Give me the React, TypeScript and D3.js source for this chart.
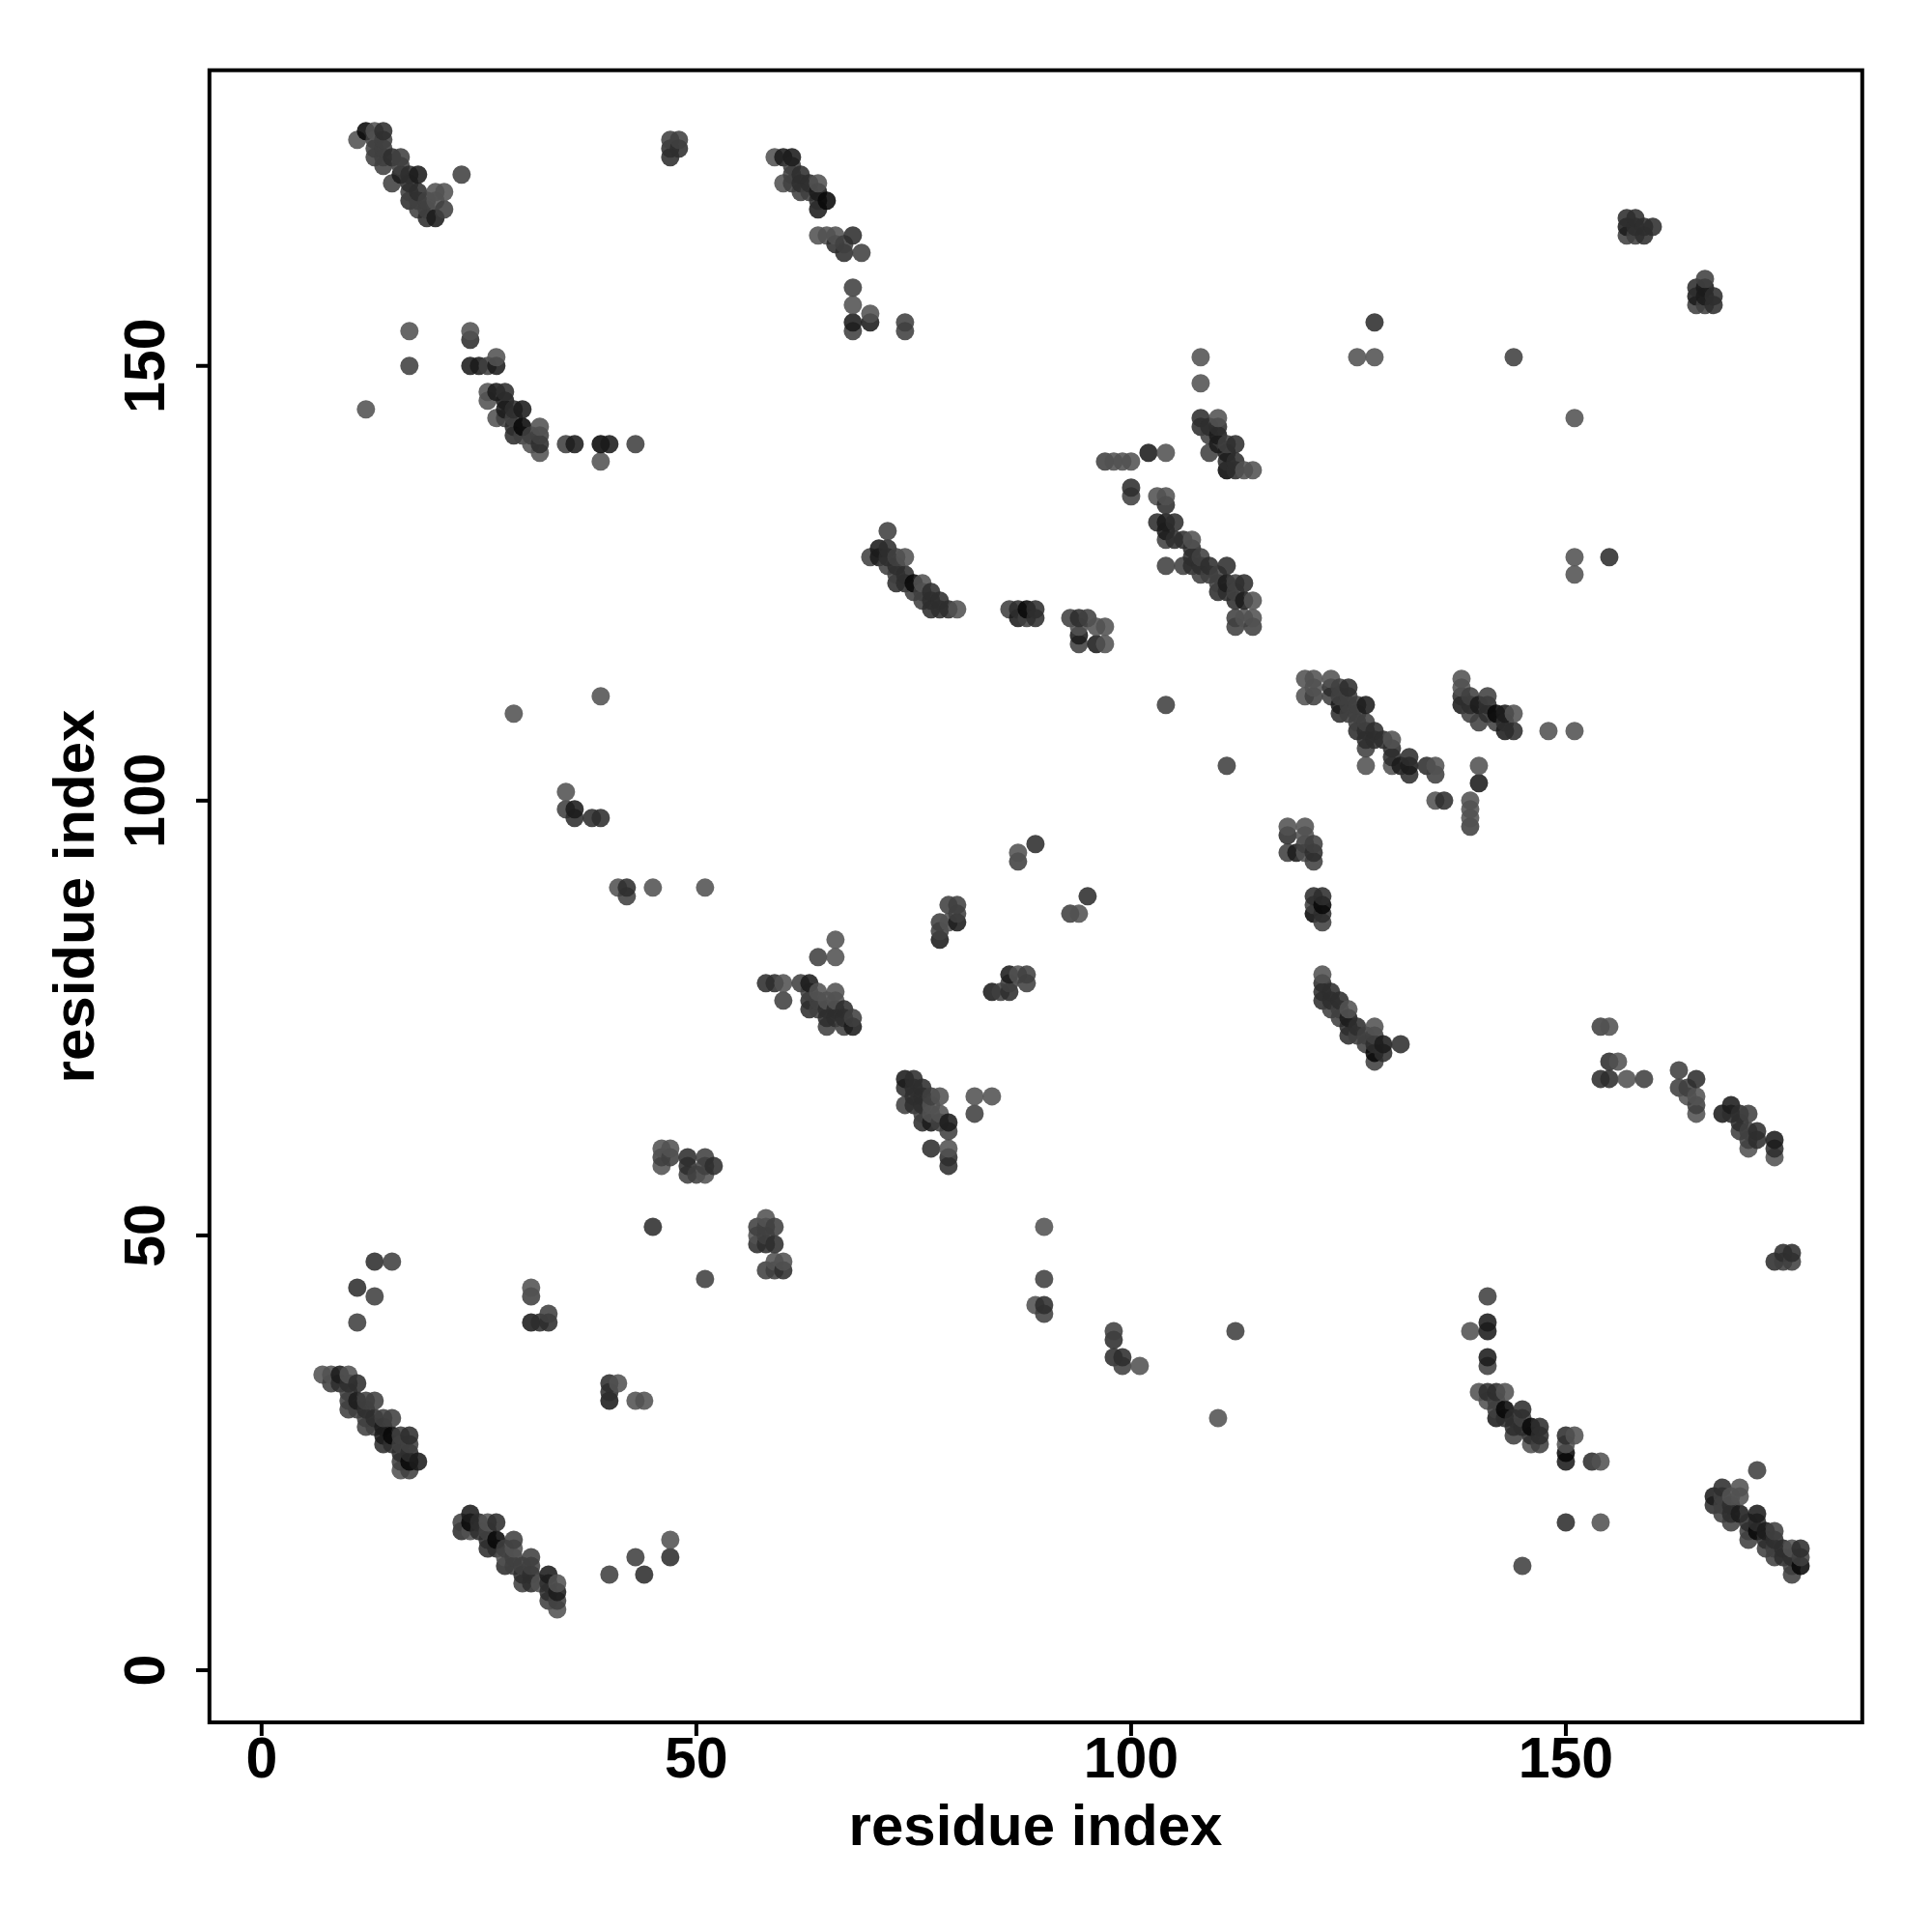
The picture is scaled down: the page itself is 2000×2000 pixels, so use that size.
import React from "react";
import * as d3 from "d3";

type P = [number, number, number];
// each entry: residue i, residue j, contact strength (1 faint .. 5 strong)
const topLeft: P[] = [[11,176,1],[12,177,5],[13,177,1],[14,177,3],[13,176,2],[14,176,2],[13,175,2],[14,175,2],[13,174,2],[14,174,2],[14,173,2],[15,174,3],[16,174,2],[16,173,2],[15,171,2],[16,172,4],[17,172,3],[18,172,4],[17,171,3],[18,170,3],[17,170,2],[17,169,3],[18,169,2],[18,168,2],[19,169,2],[19,168,2],[19,167,3],[20,167,4],[20,170,1],[21,170,1],[20,169,1],[21,168,2],[23,172,2]];
const topMid: P[] = [[47,174,3],[47,175,3],[47,176,2],[48,176,2],[48,175,3]];
const arcA: P[] = [[17,154,1],[17,150,2],[12,145,1],[24,154,1],[24,153,3],[24,150,4],[25,150,4],[26,150,2],[27,150,4],[27,151,1],[26,147,1],[26,146,1],[27,147,4],[28,147,3],[27,144,1],[28,146,4],[28,145,4],[29,145,3],[30,145,4],[28,144,2],[29,144,2],[29,143,3],[30,143,5],[29,142,3],[30,142,2],[31,142,2],[31,141,1],[32,143,1],[32,142,2],[32,141,3],[32,140,1],[35,141,2],[36,141,4],[39,141,5],[40,141,4],[39,139,1],[43,141,2]];
const topStrand: P[] = [[59,174,1],[60,174,4],[61,174,4],[61,173,2],[62,172,3],[60,171,1],[61,172,2],[61,171,2],[62,171,3],[62,170,2],[63,171,3],[64,171,1],[63,170,2],[64,170,4],[65,169,5],[64,169,3],[64,168,4],[64,165,1],[65,165,1],[66,165,1],[68,165,3],[67,164,2],[66,164,3],[67,163,3],[69,163,2],[68,159,2],[68,157,1],[68,155,4],[68,154,2],[70,156,1],[70,155,4],[74,155,2],[74,154,2]];
const midStrand: P[] = [[72,131,2],[71,129,4],[72,129,3],[70,128,2],[71,128,4],[72,128,3],[73,128,2],[74,128,1],[72,127,2],[73,127,3],[73,126,2],[74,126,3],[73,125,3],[74,125,3],[75,125,5],[76,125,1],[75,124,2],[76,124,2],[77,124,3],[76,123,2],[77,123,3],[78,123,3],[77,122,3],[78,122,3],[79,122,3],[80,122,1],[86,122,2],[87,122,3],[88,122,5],[89,122,3],[87,121,4],[88,121,2],[89,121,3],[93,121,2],[94,121,3],[95,121,2],[94,120,1],[96,120,1],[97,120,1],[94,119,4],[94,118,2],[96,118,4],[97,118,1]];
const upperMid: P[] = [[108,151,1],[108,148,1],[108,144,3],[108,143,3],[110,144,1],[109,143,3],[110,143,3],[109,142,2],[110,142,4],[110,141,4],[111,141,2],[112,141,3],[109,140,2],[111,140,4],[111,139,3],[112,139,3],[111,138,5],[112,138,3],[113,138,1],[114,138,1],[97,139,2],[98,139,1],[99,139,1],[100,139,1],[102,140,4],[104,140,1],[100,136,3],[100,135,2],[103,135,1],[104,135,1],[104,134,3],[103,132,3],[104,132,4],[105,132,3],[104,131,4],[104,130,2],[105,130,3],[106,130,3],[107,130,1],[104,127,2],[106,127,2],[107,129,3],[107,128,3],[108,128,2],[107,127,3],[108,127,3],[109,127,3],[108,126,2],[109,126,2],[110,126,2],[111,127,3],[110,125,2],[111,125,4],[112,125,2],[113,125,3],[110,124,3],[111,124,3],[112,124,2],[112,123,3],[113,123,4],[114,123,1],[112,121,2],[113,121,1],[114,121,1],[112,120,2],[114,120,2]];
const rightStrand: P[] = [[120,114,1],[121,114,1],[120,112,1],[121,113,1],[121,112,2],[123,114,1],[123,113,3],[123,112,2],[124,113,2],[125,113,3],[124,112,2],[125,112,2],[124,111,4],[125,111,2],[126,111,2],[127,111,4],[124,110,3],[125,110,2],[126,110,2],[126,109,2],[127,109,2],[126,108,3],[127,108,3],[128,108,3],[127,107,3],[128,107,3],[129,107,3],[130,107,1],[127,106,2],[127,104,1],[130,106,3],[130,105,3],[130,104,1],[131,104,4],[132,105,3],[132,104,4],[132,103,3],[134,104,3],[135,104,1],[135,103,2],[135,100,1],[136,100,3],[138,114,1],[138,113,1],[138,112,3],[138,111,4],[139,112,2],[139,111,3],[139,110,2],[140,111,4],[141,112,2],[141,111,3],[141,110,3],[140,109,2],[142,110,5],[143,110,4],[144,110,1],[142,109,2],[143,109,3],[143,108,4],[144,108,3],[140,104,1],[140,102,4],[139,100,1],[139,99,1],[139,98,1],[139,97,2]];
const helix: P[] = [[118,97,1],[118,96,3],[118,94,2],[120,97,1],[120,96,1],[120,95,2],[121,95,2],[121,94,3],[121,93,2],[119,94,4],[120,94,1],[121,89,3],[122,89,3],[121,88,2],[122,88,5],[121,87,5],[122,87,3],[122,86,2],[122,80,1],[122,79,3],[122,78,3],[123,78,3],[122,77,3],[123,77,3],[124,77,3],[123,76,2],[124,76,2],[125,76,1],[124,75,2],[125,75,4],[125,74,3],[126,74,3],[125,73,3],[126,73,2],[127,73,2],[127,72,2],[128,74,1],[128,73,2],[128,72,3],[129,72,4],[128,71,5],[129,71,3],[128,70,2],[131,72,3]];
const center: P[] = [[66,84,1],[64,82,2],[66,82,1],[58,79,3],[59,79,3],[60,79,1],[60,77,2],[62,79,2],[63,79,4],[63,78,2],[63,77,3],[63,76,3],[64,78,1],[64,77,2],[64,76,2],[65,77,1],[65,76,3],[65,75,3],[65,74,2],[66,78,1],[66,77,1],[66,76,3],[66,75,3],[67,76,3],[67,75,3],[67,74,2],[68,75,2],[68,74,4],[79,88,2],[80,88,2],[80,87,2],[80,86,4],[78,86,2],[79,86,1],[78,85,2],[78,84,4],[86,80,4],[87,80,1],[88,80,2],[88,79,2],[86,79,2],[84,78,4],[85,78,2],[86,78,3],[74,68,4],[75,68,3],[74,67,3],[75,67,3],[76,67,3],[74,65,2],[75,66,3],[76,66,3],[77,66,2],[78,66,1],[75,65,3],[76,65,3],[77,65,1],[76,64,2],[77,64,1],[78,64,1],[76,63,3],[77,63,4],[78,63,2],[79,63,4],[79,62,2],[77,60,3],[79,60,1],[79,59,3],[79,58,3],[82,66,1],[84,66,1],[82,64,2],[89,95,3],[87,94,1],[87,93,2],[95,89,3],[93,87,2],[94,87,1]];
const scattered: P[] = [[29,110,1],[39,112,1],[35,101,1],[35,99,2],[36,99,4],[36,98,3],[38,98,3],[39,98,3],[41,90,1],[42,90,3],[42,89,2],[45,90,1],[51,90,1],[104,111,2],[111,104,2],[151,144,1],[151,128,1],[151,126,1],[155,128,3],[144,151,2],[128,155,3],[126,151,1],[128,151,1],[148,108,1],[151,108,1]];
const upperRight: P[] = [[157,167,3],[157,166,4],[157,165,2],[158,167,3],[158,166,3],[158,165,2],[159,166,3],[159,165,3],[160,166,3],[166,160,2],[165,159,3],[166,159,4],[165,158,4],[166,158,4],[167,158,3],[165,157,2],[167,157,3],[166,157,2]];
const lowerRight: P[] = [[154,74,2],[155,74,1],[155,70,3],[156,70,1],[154,68,3],[155,68,3],[157,68,1],[159,68,2],[163,69,2],[165,68,3],[163,67,2],[164,67,2],[165,66,1],[164,66,1],[165,65,2],[165,64,1],[168,64,4],[169,65,4],[169,64,3],[170,64,3],[171,64,2],[170,63,3],[170,62,2],[171,62,2],[172,62,3],[171,61,2],[171,60,1],[172,61,3],[174,61,4],[174,60,3],[174,59,1],[174,47,3],[175,47,2],[175,48,3],[176,48,3],[176,47,2]];
const lowerMid: P[] = [[46,60,1],[47,60,1],[46,59,2],[47,59,2],[46,58,1],[49,59,3],[49,58,3],[49,57,2],[50,57,2],[51,59,2],[51,58,2],[51,57,1],[52,58,3],[45,51,3],[51,45,2],[58,52,1],[57,51,2],[58,51,2],[59,51,2],[57,50,1],[58,50,2],[57,49,3],[58,49,3],[59,49,3],[58,46,2],[59,47,1],[60,47,1],[59,46,2],[60,46,3],[13,47,3],[15,47,2],[11,44,3],[13,43,2],[11,40,2],[31,44,1],[31,43,2],[33,41,2],[31,40,4],[32,40,3],[33,40,3],[40,33,3],[41,33,1],[40,32,3],[40,31,4],[43,31,1],[44,31,1],[90,51,1],[90,45,2],[89,42,1],[90,42,3],[90,41,2],[98,39,2],[98,38,3],[98,36,3],[99,36,3],[99,35,2],[101,35,1],[112,39,2],[110,29,1]];
const lowerLeft: P[] = [[7,34,1],[8,34,1],[9,34,4],[10,34,1],[8,33,2],[9,33,3],[10,33,3],[11,33,3],[10,32,2],[10,31,2],[11,31,4],[12,31,2],[13,31,2],[10,30,2],[11,30,2],[12,30,3],[12,29,2],[13,29,3],[14,29,2],[15,29,2],[12,28,2],[13,28,2],[14,28,4],[14,27,4],[15,27,5],[16,27,2],[17,27,3],[14,26,3],[15,26,3],[16,26,2],[17,26,2],[16,25,3],[17,25,3],[16,24,2],[17,24,5],[18,24,4],[16,23,1],[17,23,2],[23,17,2],[23,16,3],[24,18,4],[24,17,5],[24,16,1],[25,17,3],[26,17,1],[27,17,3],[25,16,3],[26,16,2],[26,15,3],[27,15,5],[26,14,3],[27,14,3],[28,14,2],[29,15,2],[29,14,1],[28,13,1],[29,13,2],[28,12,3],[29,12,2],[30,12,2],[31,13,2],[31,12,2],[30,11,3],[31,11,3],[30,10,2],[31,10,3],[32,10,1],[33,11,4],[33,10,3],[33,9,3],[34,10,1],[34,9,4],[33,8,2],[34,8,2],[34,7,1],[40,11,2],[43,13,2],[44,11,3],[47,15,1],[47,13,3]];
const arcB: P[] = [[141,43,2],[139,39,1],[141,40,4],[141,39,4],[141,36,4],[141,35,2],[140,32,1],[141,32,3],[142,32,3],[143,32,1],[141,31,1],[142,31,2],[142,30,2],[143,30,5],[142,29,4],[143,29,3],[144,29,3],[145,30,3],[145,29,2],[144,28,3],[145,28,3],[144,27,2],[146,28,5],[147,28,3],[146,27,3],[147,27,3],[146,26,1],[147,26,2],[150,27,3],[151,27,1],[150,26,1],[150,25,5],[150,24,4],[153,24,3],[154,24,1],[150,17,3],[154,17,1],[145,12,2]];
const lowerEnd: P[] = [[172,23,2],[167,20,4],[167,19,3],[168,21,3],[168,20,2],[168,19,2],[168,18,2],[169,20,1],[170,21,1],[170,20,1],[169,19,3],[169,18,3],[169,17,2],[170,18,4],[171,17,3],[171,16,2],[171,15,2],[172,18,4],[172,17,3],[172,16,5],[173,16,4],[174,16,2],[173,15,3],[173,14,2],[174,15,3],[174,14,2],[174,13,2],[175,14,3],[175,13,3],[176,14,1],[176,13,3],[176,12,2],[177,14,3],[177,13,2],[177,12,5],[176,11,2]];

const axisTicks = [0, 50, 100, 150];
const axisTitle = "residue index";

const allPoints: P[] = [topLeft, topMid, arcA, topStrand, midStrand, upperMid, rightStrand, helix, center, scattered, upperRight, lowerRight, lowerMid, lowerLeft, arcB, lowerEnd]
  .flat()
  .sort((a, b) => d3.ascending(a[0], b[0]) || d3.ascending(a[1], b[1]));

const x = d3.scaleLinear().domain([-6, 184]).range([216.8, 1927]);
const y = d3.scaleLinear().domain([-6, 184]).range([1783, 72.7]);
const grey = d3.scaleLinear().domain([1, 5]).range([82, 8]);
const font = "'Liberation Sans', Arial, sans-serif";

export default function App() {
  return (
    <svg width={2000} height={2000} style={{ position: "absolute", left: 0, top: 0 }} fontFamily={font} fontWeight="bold" fontSize={59}>
      <rect x={0} y={0} width={2000} height={2000} fill="#fff" />
      {allPoints.map((p, i) => {
        const g = Math.round(grey(p[2]));
        return <circle key={i} cx={x(p[0])} cy={y(p[1])} r={9.5} fill={`rgb(${g},${g},${g})`} fillOpacity={0.88} />;
      })}
      <rect x={216.8} y={72.7} width={1711} height={1710.3} fill="none" stroke="#000" strokeWidth={4} />
      {axisTicks.map((t) => (
        <g key={t}>
          <line x1={x(t)} x2={x(t)} y1={1783} y2={1797} stroke="#000" strokeWidth={4} />
          <text x={x(t)} y={1840} textAnchor="middle">{t}</text>
          <line x1={203} x2={216.8} y1={y(t)} y2={y(t)} stroke="#000" strokeWidth={4} />
          <text transform={`translate(170,${y(t)}) rotate(-90)`} textAnchor="middle">{t}</text>
        </g>
      ))}
      <text x={1072} y={1910} textAnchor="middle" fontSize={60}>{axisTitle}</text>
      <text transform="translate(97,928) rotate(-90)" textAnchor="middle" fontSize={60}>{axisTitle}</text>
    </svg>
  );
}
